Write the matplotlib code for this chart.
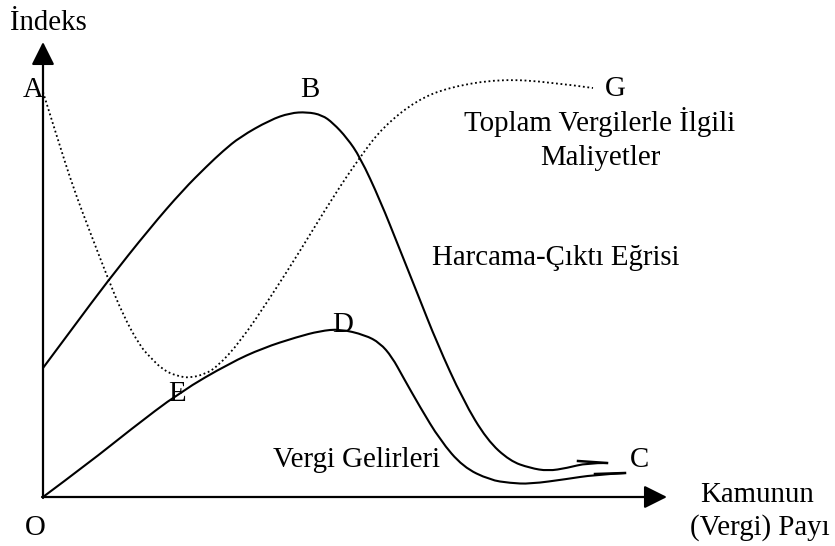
import numpy as np
import matplotlib.pyplot as plt
from matplotlib.path import Path
from matplotlib.patches import PathPatch

plt.rcParams['font.family'] = ['Liberation Serif', 'DejaVu Serif']

# curves (pixel coords, y down)
harcama_x = [43, 75, 107, 150, 183, 207, 223, 240, 270, 290, 307, 322, 333, 347, 360, 380, 400, 418, 437, 463, 487, 510, 530, 548, 567, 587, 607]
harcama_y = [368, 325, 282, 228, 190, 166, 151, 137, 120, 113, 112, 115, 123, 138, 157, 200, 250, 295, 343, 400, 440, 461, 468, 471, 468, 463, 463]

gelir_x = [43, 90, 130, 180, 230, 263, 297, 320, 340, 365, 380, 392, 403, 420, 440, 463, 490, 510, 530, 567, 593, 625]
gelir_y = [497, 462, 430, 392, 363, 348, 337, 331, 329, 335, 343, 357, 377, 407, 440, 467, 480, 483, 484, 479, 475, 473]

maliyet_x = [43, 58, 73, 90, 107, 123, 140, 150, 163, 177, 190, 205, 217, 240, 270, 300, 333, 360, 383, 417, 450, 500, 550, 593]
maliyet_y = [92, 140, 187, 232, 276, 315, 346, 357, 370, 376, 378, 374, 367, 342, 298, 251, 197, 157, 127, 100, 87, 79, 82, 88]

# little tails at the end near C
tail1_x, tail1_y = [578, 607], [461, 463]
tail2_x, tail2_y = [595, 625], [474, 473]


def smooth_path(xs, ys):
    # quadratic bezier through midpoints, points act as control points
    p = np.column_stack([xs, ys]).astype(float)
    verts = [p[0]]
    codes = [Path.MOVETO]
    for i in range(1, len(p) - 1):
        mid = (p[i] + p[i + 1]) / 2
        if i == len(p) - 2:
            mid = p[i + 1]
        verts += [p[i], mid]
        codes += [Path.CURVE3, Path.CURVE3]
    return Path(verts, codes)


fig = plt.figure(figsize=(8.35, 5.46), dpi=100)
ax = fig.add_axes([0, 0, 1, 1])
ax.set_xlim(0, 835)
ax.set_ylim(546, 0)
ax.axis('off')

# axes arrows
arr = dict(arrowstyle='-|>,head_length=14,head_width=7', mutation_scale=1,
           lw=1.6, color='black', shrinkA=0, shrinkB=0)
ax.annotate('', xy=(43, 42), xytext=(43, 498), arrowprops=arr)
ax.annotate('', xy=(667, 497), xytext=(42, 497), arrowprops=arr)

ax.add_patch(PathPatch(smooth_path(harcama_x, harcama_y), fill=False, color='black', lw=1.5))
ax.add_patch(PathPatch(smooth_path(gelir_x, gelir_y), fill=False, color='black', lw=1.5))
ax.add_patch(PathPatch(smooth_path(maliyet_x, maliyet_y), fill=False, color='black',
                       lw=1.3, linestyle=(0, (1, 1.5))))
ax.plot(tail1_x, tail1_y, color='black', lw=1.8)
ax.plot(tail2_x, tail2_y, color='black', lw=1.8)

fs = 20.8
ax.text(10, 30, 'İndeks', fontsize=fs, va='baseline')
ax.text(23, 97, 'A', fontsize=fs, va='baseline')
ax.text(300, 97, 'B', fontsize=fs, va='baseline')
ax.text(605, 96, 'G', fontsize=fs, va='baseline')
ax.text(600, 131, 'Toplam Vergilerle İlgili', fontsize=fs, va='baseline', ha='center')
ax.text(600, 165, 'Maliyetler', fontsize=fs, va='baseline', ha='center')
ax.text(432, 265, 'Harcama-Çıktı Eğrisi', fontsize=fs, va='baseline')
ax.text(332, 332, 'D', fontsize=fs, va='baseline')
ax.text(168, 401, 'E', fontsize=fs, va='baseline')
ax.text(273, 467, 'Vergi Gelirleri', fontsize=fs, va='baseline')
ax.text(630, 467, 'C', fontsize=fs, va='baseline')
ax.text(757, 502, 'Kamunun', fontsize=fs, va='baseline', ha='center')
ax.text(760, 535, '(Vergi) Payı', fontsize=fs, va='baseline', ha='center')
ax.text(25, 535, 'O', fontsize=fs, va='baseline')

fig.savefig('out.png', dpi=100, facecolor='white')
